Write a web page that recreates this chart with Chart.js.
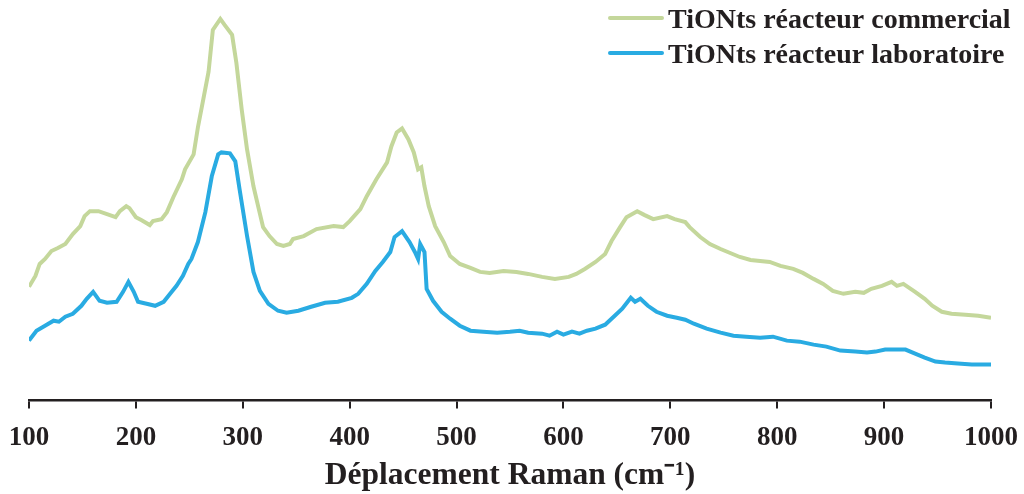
<!DOCTYPE html>
<html>
<head>
<meta charset="utf-8">
<script src="https://cdn.jsdelivr.net/npm/chart.js@4"></script>
<style>
  html, body { margin: 0; padding: 0; background: #ffffff; }
  #wrap { position: relative; width: 1024px; height: 494px; }
</style>
</head>
<body>
<div id="wrap"><canvas id="c" width="1024" height="494"></canvas></div>
<script>
// Wavenumbers (cm-1) and relative intensities (arbitrary units)
const commercialX = [100,106,110,115,121,127,134,141,148,152,157,165,173,181,185,191,194,200,205,213,216,224,229,235,243,246,254,258,263,268,272,279,283,290,294,299,304,310,315,319,325,332,338,344,347,357,369,385,394,400,410,416,425,435,439,444,449,455,460,464,467,470,474,480,488,494,503,513,522,531,544,556,567,580,592,605,612,620,630,639,645,653,659,669,676,684,697,704,714,718,728,737,747,756,765,775,784,793,803,815,824,834,843,852,862,873,881,888,898,907,912,918,929,938,945,954,963,976,988,1000];
const commercialY = [114,125,137,142,150,153,157,167,175,185,190,190,187,184,190,195,193,184,181,176,180,182,189,204,222,232,247,274,302,330,372,383,377,367,339,292,252,215,192,174,165,157,155,157,162,165,172,175,174,180,192,205,222,239,255,269,273,262,249,232,234,215,195,175,159,145,137,133,129,128,130,129,127,124,122,124,127,132,139,147,160,174,184,190,186,182,185,182,179,174,164,157,152,148,144,141,140,139,135,132,128,122,117,110,107,109,108,112,115,119,115,117,109,102,95,89,87,86,85,83];

const laboX = [100,107,115,123,128,134,141,149,154,160,166,173,182,188,193,198,202,210,218,226,232,238,244,249,252,258,265,271,277,280,288,293,297,304,310,316,324,333,341,352,364,377,389,402,408,416,424,431,438,442,449,456,461,464,466,470,472,478,486,494,503,513,525,538,550,559,567,580,587,594,600,608,615,622,630,639,647,655,663,667,672,679,687,697,706,714,722,734,747,759,771,784,796,809,821,834,846,859,873,884,892,901,910,920,929,938,948,957,969,982,1000];
const laboY = [60,70,75,80,79,84,87,95,102,109,100,98,99,109,119,109,99,97,95,99,107,115,125,137,142,159,189,225,247,249,248,240,212,165,129,110,97,90,88,90,94,98,99,103,107,117,130,139,149,164,170,159,149,142,157,149,112,100,89,82,75,70,69,68,69,70,68,67,65,69,66,69,67,70,72,76,84,92,103,99,102,95,89,85,83,81,77,72,68,65,64,63,64,60,59,56,54,50,49,48,49,51,51,51,47,43,39,38,37,36,36];

const xTicks = [100,200,300,400,500,600,700,800,900,1000];
const seriesLabels = ['TiONts réacteur commercial', 'TiONts réacteur laboratoire'];
const seriesColors = ['#c4d79b', '#29abe2'];
const axisTitle = 'Déplacement Raman (cm⁻¹)';

const toPoints = (xs, ys) => xs.map((x, i) => ({ x: x, y: ys[i] }));

const textColor = '#231f20';
const serif = '"Liberation Serif", "Times New Roman", serif';

const legendPlugin = {
  id: 'customLegend',
  afterDraw(chart) {
    const ctx = chart.ctx;
    ctx.save();
    const rows = [21, 56];
    chart.data.datasets.forEach((ds, i) => {
      const y = rows[i];
      ctx.beginPath();
      ctx.strokeStyle = ds.borderColor;
      ctx.lineWidth = 4;
      ctx.lineCap = 'round';
      ctx.moveTo(610, y - 3);
      ctx.lineTo(662, y - 3);
      ctx.stroke();
      ctx.fillStyle = textColor;
      ctx.font = 'bold 28px ' + serif;
      ctx.textBaseline = 'middle';
      ctx.textAlign = 'left';
      ctx.fillText(ds.label, 668, y);
    });
    ctx.restore();
  }
};

new Chart(document.getElementById('c'), {
  type: 'line',
  data: {
    datasets: [
      { label: seriesLabels[0], data: toPoints(commercialX, commercialY), borderColor: seriesColors[0], backgroundColor: seriesColors[0], borderWidth: 4, pointRadius: 0, tension: 0, fill: false },
      { label: seriesLabels[1], data: toPoints(laboX, laboY), borderColor: seriesColors[1], backgroundColor: seriesColors[1], borderWidth: 4, pointRadius: 0, tension: 0, fill: false }
    ]
  },
  options: {
    responsive: false,
    animation: false,
    layout: { padding: { left: 29, right: 33, top: 0, bottom: 0 } },
    plugins: { legend: { display: false }, tooltip: { enabled: false } },
    scales: {
      x: {
        type: 'linear',
        min: 100,
        max: 1000,
        afterBuildTicks: (scale) => { scale.ticks = xTicks.map(v => ({ value: v })); },
        afterFit: (scale) => { scale.paddingLeft = 0; scale.paddingRight = 0; },
        ticks: {
          callback: (v) => String(v),
          color: textColor,
          padding: 13,
          maxRotation: 0,
          font: { family: serif, size: 27, weight: 'bold' }
        },
        grid: { drawOnChartArea: false, drawTicks: true, tickLength: 8, color: textColor, lineWidth: 2 },
        border: { display: true, color: textColor, width: 2.5 },
        title: {
          display: true,
          text: axisTitle,
          color: textColor,
          padding: { top: -10, bottom: -0.6 },
          font: { family: serif, size: 31.5, weight: 'bold' }
        }
      },
      y: {
        display: false,
        min: 0,
        max: 402
      }
    }
  },
  plugins: [legendPlugin]
});
</script>
</body>
</html>
